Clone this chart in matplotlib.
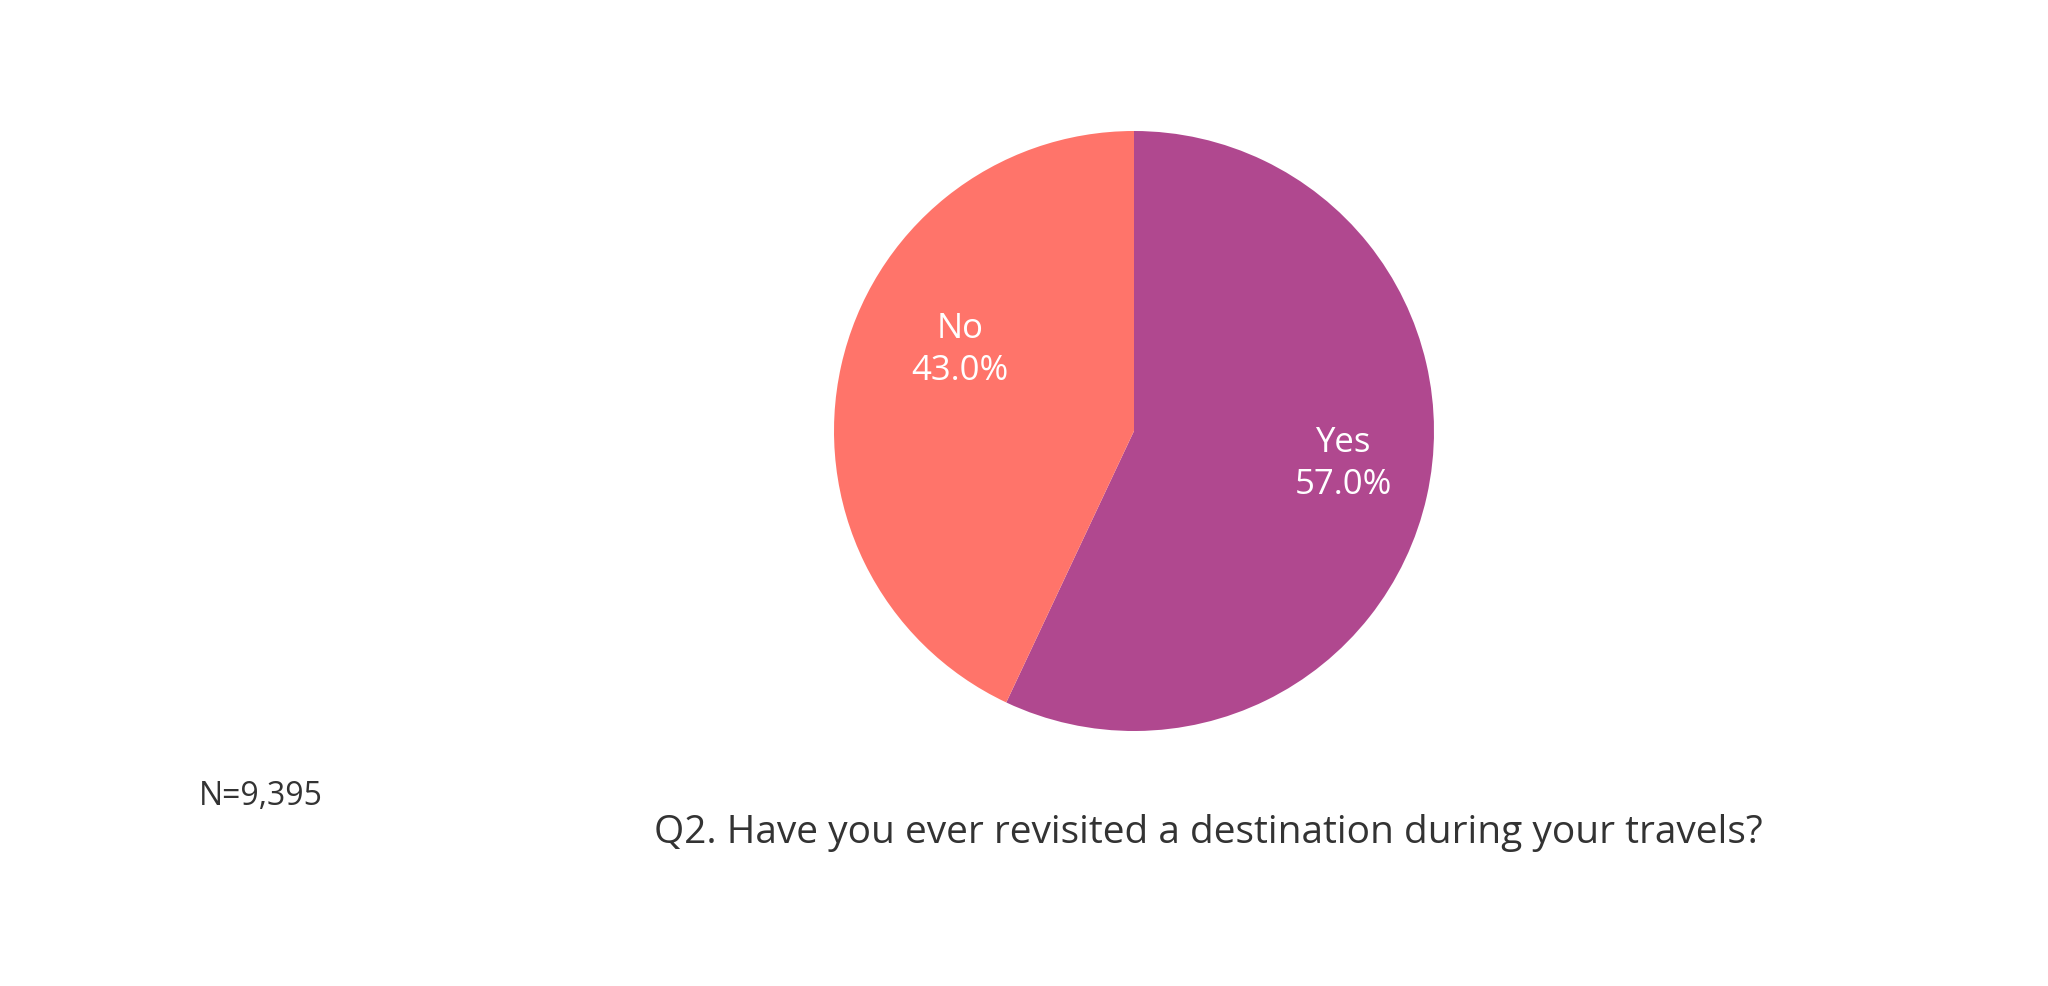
import matplotlib
matplotlib.use("Agg")
import matplotlib.pyplot as plt

labels = ["Yes", "No"]
values = [57.0, 43.0]
colors = ["#B0488F", "#FF746A"]

W, H = 2048, 987
fig = plt.figure(figsize=(W/100, H/100), dpi=100)
plt.rcParams['font.family'] = ['Open Sans', 'DejaVu Sans']
cx, cy, r = 1134, 432, 300
ax = fig.add_axes([(cx-r)/W, 1-(cy+r)/H, 2*r/W, 2*r/H])
wedges, _ = ax.pie(values, colors=colors, startangle=90, counterclock=False,
                   radius=1, wedgeprops=dict(linewidth=0))
ax.set_xlim(-1, 1); ax.set_ylim(-1, 1); ax.set_aspect('equal'); ax.axis('off')
pos = {"Yes": (1343, 464), "No": (960, 350)}
for lab, v in zip(labels, values):
    x, y = pos[lab]
    fig.text(x/W, 1-y/H, f"{lab}\n{v:.1f}%", ha='center', va='center',
             color='white', fontsize=25, linespacing=1.3)
fig.text(261/W, 1-797/H, "N=9,395", ha='center', va='center', fontsize=23, color='#333333')
fig.text(1208/W, 1-833/H, "Q2. Have you ever revisited a destination during your travels?",
         ha='center', va='center', fontsize=28, color='#333333')
fig.savefig("out.png", dpi=100, facecolor='white')
